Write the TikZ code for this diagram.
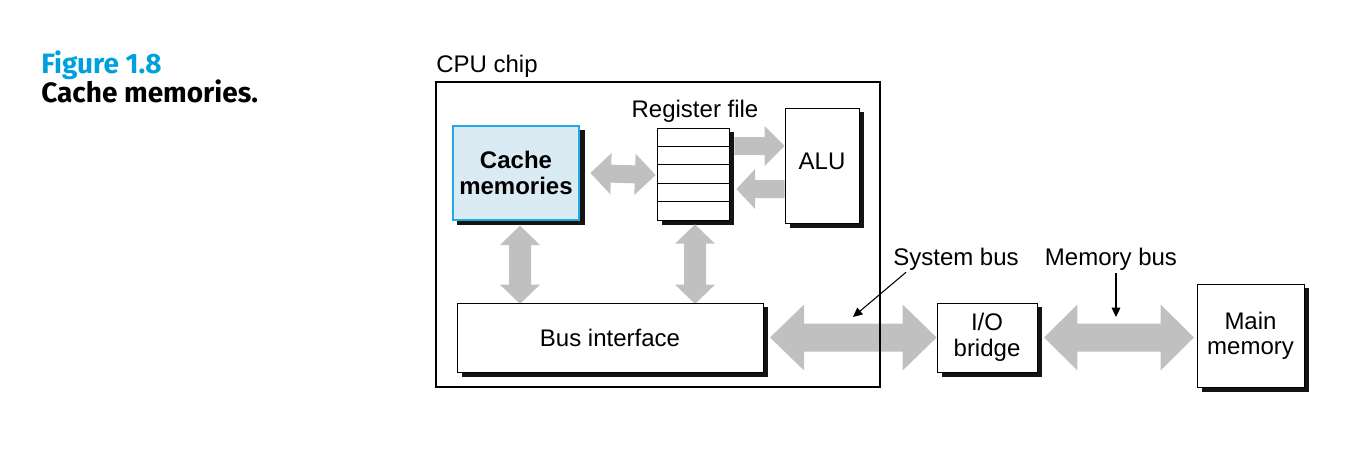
\documentclass[tikz,border=0pt]{standalone}
\usepackage{fontspec}
\setmainfont{Liberation Sans}
\newfontfamily\titlefont{Fira Sans}
\usetikzlibrary{calc,arrows.meta}
\definecolor{busgray}{RGB}{192,192,192}
\definecolor{cachefill}{RGB}{219,235,243}
\definecolor{cacheedge}{RGB}{35,170,225}
\definecolor{figblue}{RGB}{0,160,220}
\definecolor{shadowcol}{RGB}{20,20,20}
\pgfdeclarelayer{bg}
\pgfsetlayers{bg,main}
% double fat arrow: #1 shaft half width, #2 head half width, #3 head length, #4 A, #5 B
\newcommand\dblfat[5]{%
\fill[busgray] (#4) -- ($(#4)!#3!(#5)!#2!90:(#5)$) -- ($(#4)!#3!(#5)!#1!90:(#5)$)
 -- ($(#5)!#3!(#4)!#1!-90:(#4)$) -- ($(#5)!#3!(#4)!#2!-90:(#4)$) -- (#5)
 -- ($(#5)!#3!(#4)!#2!90:(#4)$) -- ($(#5)!#3!(#4)!#1!90:(#4)$)
 -- ($(#4)!#3!(#5)!#1!-90:(#5)$) -- ($(#4)!#3!(#5)!#2!-90:(#5)$) -- cycle;}
% single fat arrow from #4 to #5
\newcommand\sglfat[5]{%
\fill[busgray] ($(#4)!#1!90:(#5)$) -- ($(#5)!#3!(#4)!#1!-90:(#4)$)
 -- ($(#5)!#3!(#4)!#2!-90:(#4)$) -- (#5) -- ($(#5)!#3!(#4)!#2!90:(#4)$)
 -- ($(#5)!#3!(#4)!#1!90:(#4)$) -- ($(#4)!#1!-90:(#5)$) -- cycle;}
% dark drop shadow behind a named node
\newcommand\boxshadow[1]{%
\fill[shadowcol] ([shift={(5,4.5)}]#1.north west) rectangle ([shift={(5,4.5)}]#1.south east);}
\tikzset{
  txt/.style={font=\fontsize{18pt}{19pt}\selectfont, inner sep=0pt},
  box/.style={txt, draw=black, line width=0.6pt, fill=white, align=center},
  cachebox/.style={box, draw=cacheedge, line width=1pt, fill=cachefill, font=\fontsize{18pt}{19pt}\selectfont\bfseries},
  cpubox/.style={draw=black, line width=1.8pt, inner sep=0pt},
  ptr/.style={line width=0.8pt, -{Triangle[length=7pt,width=6.5pt]}},
  titletxt/.style={anchor=base west, inner sep=0pt, font=\titlefont\bfseries\fontsize{21pt}{23pt}\selectfont},
}
\begin{document}
\begin{tikzpicture}[x=0.75pt,y=-0.75pt]
\useasboundingbox (0,0) rectangle (1352,454);
% title
\node[titletxt, text=figblue] (fig) at (41,73) {Figure 1.8};
\node[titletxt] (cap) at (41,102) {Cache memories.};
% cpu chip
\node[cpubox, minimum width=333pt, minimum height=228.75pt] (cpu) at (658,234.5) {};
\node[txt, anchor=base west] (cpulbl) at (436,72) {CPU chip};
% boxes
\node[cachebox, minimum width=94.5pt, minimum height=70.5pt] (cache) at (516,173) {Cache\\memories};
\node[box, minimum width=54pt, minimum height=69pt] (reg) at (693,174) {};
\foreach \i in {1,...,4}
  \draw[line width=0.6pt] ($(reg.north west)!\i/5!(reg.south west)$) -- ($(reg.north east)!\i/5!(reg.south east)$);
\node[txt, anchor=base] (reglbl) at (695,117) {Register file};
\node[box, minimum width=55.5pt, minimum height=86.25pt, text depth=6pt] (alu) at (822,165.5) {ALU};
\node[box, minimum width=229.5pt, minimum height=51.75pt] (bus) at (610,337.5) {Bus interface};
\node[box, minimum width=75pt, minimum height=51.75pt, text depth=4pt] (io) at (987,337.5) {I/O\\bridge};
\node[box, minimum width=80.25pt, minimum height=77.25pt] (mm) at (1250.5,335.5) {Main\\memory};
\node[txt, anchor=base] (sblbl) at (956,265) {System bus};
\node[txt, anchor=base] (mblbl) at (1111,265) {Memory bus};
% arrow end points
\coordinate (a1) at ([xshift=8]cache.east);
\coordinate (b1) at ([shift={(-1,1)}]reg.west);
\coordinate (a2) at ([shift={(5,-28)}]reg.east);
\coordinate (b2) at (alu.west |- a2);
\coordinate (a3) at ([shift={(0,23.5)}]alu.west);
\coordinate (b3) at ([shift={(7,15)}]reg.east);
\coordinate (a4) at ([shift={(4,5)}]cache.south);
\coordinate (b4) at ([yshift=-1]a4 |- bus.north);
\coordinate (a5) at ([shift={(2,4)}]reg.south);
\coordinate (b5) at ([yshift=-1]a5 |- bus.north);
\coordinate (a6) at ([xshift=5]bus.east);
\coordinate (b6) at (io.west |- a6);
\coordinate (a7) at ([xshift=5]io.east);
\coordinate (b7) at ([xshift=-2]mm.west |- a7);
\coordinate (sbtip) at (853,317);
\coordinate (mbtip) at (1116,317);
\begin{pgfonlayer}{bg}
\foreach \n in {cache,reg,alu,bus,io,mm} {\boxshadow{\n}}
\dblfat{6.75pt}{15.5pt}{15.5pt}{a1}{b1}
\sglfat{6.75pt}{15pt}{15pt}{a2}{b2}
\sglfat{6.75pt}{15pt}{14pt}{a3}{b3}
\dblfat{8.25pt}{15pt}{14.5pt}{a4}{b4}
\dblfat{8.25pt}{15pt}{14.5pt}{a5}{b5}
\dblfat{10.5pt}{24.75pt}{25.5pt}{a6}{b6}
\dblfat{10.5pt}{24.75pt}{25pt}{a7}{b7}
\end{pgfonlayer}
\draw[ptr] ([shift={(13,2)}]sblbl.south west) -- (sbtip);
\draw[ptr] ([shift={(5,3)}]mblbl.south) -- (mbtip);
\end{tikzpicture}
\end{document}
